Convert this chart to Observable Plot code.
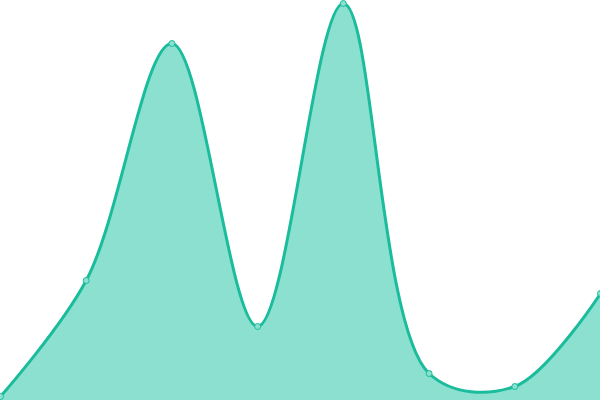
<!DOCTYPE html>
<html><head><meta charset="utf-8">
<script src="https://cdn.jsdelivr.net/npm/d3@7"></script>
<script src="https://cdn.jsdelivr.net/npm/@observablehq/plot@0.6"></script>
<style>body{margin:0;background:#fff}</style>
</head><body><div id="chart"></div>
<script>
const xs = [0, 1, 2, 3, 4, 5, 6, 7];
const values = [4, 120, 357, 74, 397, 27, 14, 107];
const data = xs.map((x, i) => ({x, y: values[i]}));
const chart = Plot.plot({
  width: 600, height: 400,
  margin: 0,
  x: {domain: [0, 7], axis: null},
  y: {domain: [0, 400], axis: null},
  marks: [
    Plot.areaY(data, {x: "x", y: "y", curve: "catmull-rom", fill: "#8be0cf"}),
    Plot.lineY(data, {x: "x", y: "y", curve: "catmull-rom", stroke: "#1abc9c", strokeWidth: 3}),
    Plot.dot(data, {x: "x", y: "y", r: 3, fill: "#8be0cf", stroke: "#1abc9c", strokeWidth: 1})
  ]
});
document.getElementById("chart").append(chart);
</script></body></html>
